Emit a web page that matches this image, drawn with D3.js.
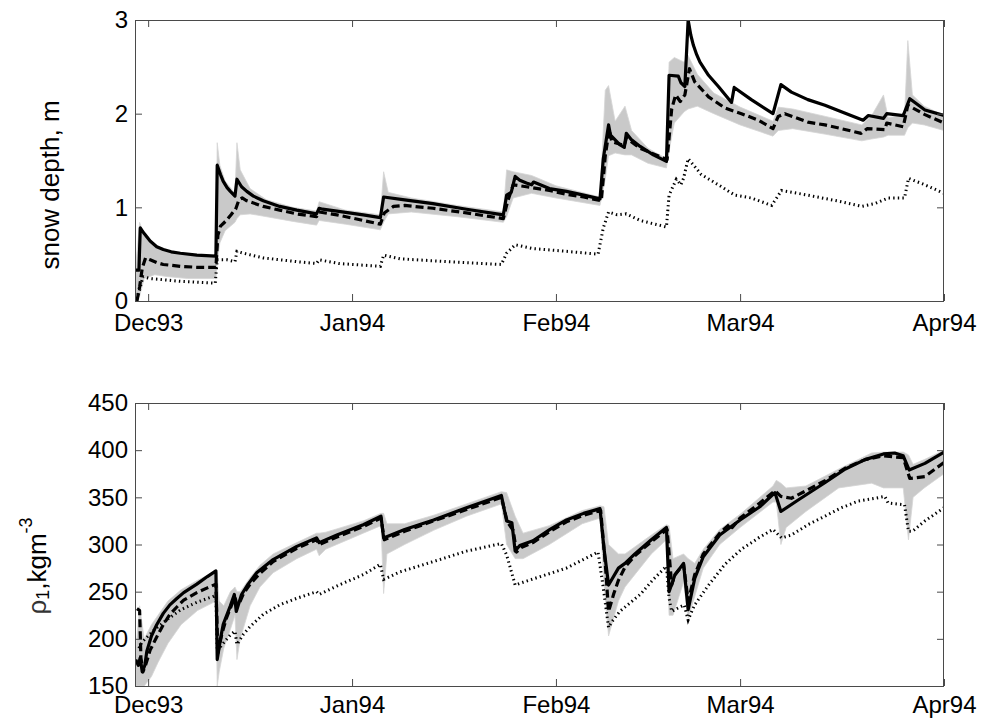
<!DOCTYPE html>
<html>
<head>
<meta charset="utf-8">
<script src="https://cdn.jsdelivr.net/npm/d3@7/dist/d3.min.js"></script>
<style>
  html, body { margin: 0; padding: 0; background: #fff; }
  svg { display: block; font-family: "Liberation Sans", Arial, Helvetica, sans-serif; }
</style>
</head>
<body>
<svg id="chart" width="982" height="724"></svg>
<script>
// Days are counted from 1 Dec 1993 (fractional days allowed).
const monthTicks = ["1993-12-01", "1994-01-01", "1994-02-01", "1994-03-01", "1994-04-01"];
const depthTicks = [0, 1, 2, 3];
const densityTicks = [150, 200, 250, 300, 350, 400, 450];

// ---- snow depth, m : [day, value] ----
const depthSolid = [
  [-1.9,0.33],[-1.4,0.33],[-1.2,0.78],[-0.6,0.72],[0.3,0.64],[1.3,0.58],[2.3,0.55],[3.5,0.525],
  [4.9,0.51],[7.4,0.49],[10.3,0.48],[10.5,1.45],[11.0,1.35],[11.4,1.28],[12.0,1.21],[12.5,1.17],
  [13.2,1.12],[13.5,1.30],[14.2,1.22],[15,1.17],[16,1.12],[17.5,1.07],[20,1.01],[22.6,0.97],
  [25.6,0.93],[26.0,0.99],[26.5,0.98],[28.7,0.96],[32.7,0.92],[35.3,0.89],[35.8,1.11],[39,1.08],
  [43.3,1.04],[48.4,0.98],[54,0.92],[54.5,1.13],[55.2,1.16],[55.8,1.33],[56.5,1.29],[57.5,1.26],
  [58.3,1.24],[58.6,1.27],[61,1.20],[63.6,1.17],[66.2,1.13],[68.7,1.09],[69.2,1.52],[70.0,1.88],
  [70.3,1.77],[71.7,1.67],[72.4,1.64],[72.7,1.79],[73.5,1.72],[74.8,1.65],[76.8,1.56],[78.8,1.49],
  [79.2,2.41],[80.6,2.40],[81.0,2.33],[81.6,2.29],[82.1,3.0],[82.5,2.84],[82.9,2.73],[83.4,2.63],
  [83.9,2.55],[85.2,2.41],[86.7,2.29],[88.7,2.12],[89.1,2.28],[91.7,2.15],[95.0,2.00],[96.2,2.31],
  [97.8,2.23],[100.3,2.15],[102.9,2.09],[105.4,2.02],[108.7,1.93],[109.5,1.98],[111.8,1.95],
  [112.3,2.00],[114.8,1.98],[115.8,2.16],[118.1,2.04],[121,1.98]
];
const depthDashed = [
  [-1.7,0.0],[-1.3,0.15],[-0.9,0.35],[-0.4,0.46],[0.3,0.44],[1.3,0.41],[2.3,0.39],[4.9,0.37],
  [7.4,0.36],[10.3,0.36],[10.6,0.70],[11.0,0.80],[11.9,0.86],[12.7,0.93],[13.3,0.98],[13.8,1.08],
  [14.3,1.10],[15,1.07],[17.5,1.01],[20,0.97],[22.6,0.93],[25.6,0.90],[26.0,0.95],[28.7,0.92],
  [32.7,0.86],[35.3,0.82],[35.9,0.94],[37.3,1.01],[39,1.02],[43.3,0.99],[48.4,0.94],[54,0.88],
  [54.6,1.05],[55.5,1.24],[57.5,1.22],[61,1.18],[63.6,1.14],[66.2,1.11],[68.9,1.07],[69.5,1.55],
  [70.1,1.83],[70.5,1.70],[72.4,1.66],[72.7,1.74],[74.8,1.63],[78.9,1.51],[79.6,2.05],[80.2,2.20],
  [80.9,2.13],[81.6,2.20],[82.3,2.48],[83.1,2.34],[85.2,2.18],[87.7,2.06],[90.2,2.00],[92.8,1.93],
  [95.0,1.84],[95.8,1.97],[96.8,2.00],[100.3,1.91],[102.9,1.88],[105.4,1.84],[108.4,1.79],
  [109.3,1.84],[112.0,1.83],[112.3,1.90],[114.8,1.86],[115.5,2.09],[118.1,1.99],[121,1.90]
];
const depthDotted = [
  [-1.8,0.02],[-1.3,0.12],[-0.8,0.26],[0.3,0.24],[4.9,0.21],[10.2,0.19],[10.5,0.44],[12.0,0.44],
  [13.2,0.42],[13.5,0.53],[14.5,0.51],[17.5,0.46],[22.6,0.42],[25.6,0.40],[26.0,0.44],[29,0.40],
  [35.3,0.37],[35.8,0.49],[38.3,0.45],[45.6,0.42],[53.7,0.39],[54.5,0.51],[55.8,0.60],[58.5,0.56],
  [63.6,0.53],[68.4,0.50],[69.2,0.78],[70.0,0.95],[71.3,0.92],[72.7,0.93],[74.8,0.86],[78.8,0.79],
  [79.2,1.13],[80.3,1.30],[81.0,1.24],[81.4,1.31],[82.1,1.52],[84.1,1.35],[86.7,1.24],[89.2,1.13],
  [91.7,1.10],[94.8,1.02],[96.3,1.18],[100.3,1.13],[105.4,1.06],[108.5,1.01],[110.5,1.04],
  [112.5,1.10],[115,1.10],[115.6,1.31],[118.1,1.24],[121,1.15]
];
// ensemble spread: [day, low, high]
const depthSpread = [
  [-1.9,0.0,0.36],[-1.3,0.05,0.84],[-0.6,0.24,0.70],[1.0,0.28,0.60],[3.0,0.26,0.54],[6.0,0.24,0.50],
  [10.3,0.24,0.48],[10.5,0.40,1.69],[10.9,0.62,1.45],[11.7,0.75,1.28],[13.2,0.84,1.15],[13.5,0.88,1.69],
  [14.0,0.92,1.40],[15.5,0.93,1.20],[18,0.90,1.08],[22,0.85,1.00],[25.6,0.81,0.96],[26.0,0.86,1.06],
  [30,0.82,0.97],[35.3,0.76,0.92],[35.8,0.84,1.38],[36.5,0.93,1.16],[40,0.95,1.10],[47,0.90,1.02],
  [54.0,0.84,0.95],[54.5,0.90,1.40],[55.5,1.10,1.38],[58.3,1.15,1.34],[62,1.10,1.23],[68.7,1.02,1.11],
  [69.5,1.30,2.25],[70.0,1.55,2.30],[71.0,1.58,1.92],[72.5,1.56,2.08],[73.5,1.56,1.82],[76,1.47,1.63],
  [78.8,1.42,1.52],[79.2,1.60,2.55],[80.0,1.90,2.60],[81.5,2.02,2.55],[82.1,2.05,2.62],[83.5,2.08,2.42],
  [86,2.00,2.22],[90,1.88,2.07],[95,1.76,1.92],[95.8,1.82,2.07],[98,1.84,2.05],[103,1.78,1.97],
  [108.5,1.71,1.88],[110,1.73,1.98],[111.8,1.75,2.20],[112.5,1.77,1.96],[115,1.77,1.98],
  [115.5,1.85,2.78],[116.2,1.90,2.20],[118,1.88,2.08],[121,1.82,1.98]
];

// ---- top-layer density, kg m-3 : [day, value] ----
const densitySolid = [
  [-1.9,178],[-1.5,172],[-1.2,180],[-0.9,165],[-0.5,172],[-0.2,187],[0.5,203],[1.3,215],[2.3,227],
  [3.3,236],[4.4,243],[5.4,249],[7.4,258],[9.0,266],[10.3,272],[10.5,178],[11.0,200],[11.4,215],
  [12.0,226],[12.5,235],[13.1,247],[13.4,229],[13.8,238],[14.2,247],[15.2,258],[16.5,270],[19,284],
  [22.6,298],[25.6,307],[26.0,302],[28.7,310],[32.7,321],[35.4,330],[35.8,307],[39,316],[43.4,326],
  [48.4,339],[53.7,352],[54.5,325],[55.3,323],[55.8,293],[56.5,299],[58.5,304],[61.1,316],[63.6,326],
  [66.2,333],[68.7,338],[69.3,296],[70.0,257],[71.5,275],[72.5,280],[74.0,290],[76.5,305],[78.8,318],
  [79.2,250],[80.1,268],[81.4,280],[82.1,231],[83.1,264],[84.4,287],[86.9,310],[90,326],[93,340],
  [95.3,355],[96.2,335],[99,348],[103,366],[106,380],[109,390],[111.8,396],[113.5,397],[114.8,394],
  [115.7,379],[118.1,386],[121,398]
];
const densityDashed = [
  [-1.7,232],[-1.3,230],[-1.1,180],[-0.8,165],[-0.4,172],[0.3,188],[1.3,202],[2.3,215],[3.3,226],
  [4.4,234],[5.4,241],[7.4,249],[9.0,254],[10.3,258],[10.6,185],[11.2,205],[11.9,222],[12.7,236],
  [13.2,244],[13.5,236],[14.0,240],[14.5,248],[15.5,258],[16.8,268],[19,282],[22.6,296],[25.6,305],
  [26.0,300],[28.7,308],[32.7,319],[35.4,328],[35.9,305],[39,314],[43.4,325],[48.4,337],[53.7,350],
  [54.6,324],[55.5,315],[56.0,292],[56.8,297],[58.5,302],[61.1,314],[63.6,324],[66.2,331],[68.8,336],
  [69.5,280],[70.0,229],[70.8,248],[71.5,262],[72.5,276],[74.0,288],[76.5,303],[78.9,316],[79.6,257],
  [80.1,268],[81.4,279],[82.1,240],[83.1,268],[84.4,290],[86.9,312],[88.5,322],[88.8,318],[90,328],
  [93,344],[95.3,357],[96.2,351],[97.8,349],[100.3,358],[103,368],[106,381],[109,390],[111.8,394],
  [114.8,392],[115.8,370],[118.1,372],[121,387]
];
const densityDotted = [
  [-1.4,190],[-1.0,196],[1,210],[3,221],[5,231],[7.5,239],[10.3,246],[10.5,187],[11.5,196],[12.6,205],
  [13.2,208],[13.5,194],[14.5,205],[15.5,213],[17.5,226],[20,236],[22.6,243],[25.6,250],[26.0,247],
  [29,257],[32.7,268],[35.3,279],[35.8,263],[38.3,271],[43.4,282],[48.4,293],[53.7,301],[54.5,289],
  [55.8,257],[57,260],[63.6,275],[68.4,292],[69.2,254],[70.0,212],[70.5,218],[71.7,229],[74.8,247],
  [76.8,263],[78.8,277],[79.2,243],[79.6,229],[80.1,231],[81.5,236],[82.1,220],[82.7,230],[83.1,236],
  [85.2,257],[87.7,279],[90.2,295],[92.8,307],[95.0,316],[96.3,307],[97.8,310],[100.3,321],[102.9,330],
  [105.4,339],[108,346],[110.5,349],[112,351],[112.5,344],[115,342],[115.6,314],[116.2,314],[118.1,325],
  [121,339]
];
const densitySpread = [
  [-1.9,150,185],[-1.3,150,235],[-0.6,150,200],[0.5,160,215],[1.5,175,225],[3,195,240],[5,215,252],
  [7.5,230,262],[10.3,240,272],[10.5,150,270],[10.8,165,240],[11.5,190,235],[12.5,210,250],[13.2,225,255],
  [13.5,178,250],[14,200,250],[15.5,235,265],[17,255,278],[19,270,290],[22.6,285,302],[25.6,295,312],
  [26,288,312],[27,295,313],[32.7,312,325],[35.4,320,333],[35.8,248,333],[36.3,290,322],[39,300,322],
  [43.4,315,331],[48.4,330,343],[53.7,343,356],[54.5,300,355],[55.8,285,330],[57,285,312],[61,300,320],
  [66,322,336],[68.7,328,341],[69.3,260,340],[70,203,300],[71.5,240,290],[72.5,255,290],[76.5,290,310],
  [78.8,305,321],[79.2,225,320],[79.8,225,285],[81.4,260,290],[82.1,222,285],[83.1,245,280],[84.4,275,295],
  [86.9,300,316],[90,318,332],[95,345,362],[95.5,345,368],[96.2,300,365],[97,318,360],[100,335,362],
  [105,360,380],[110,365,397],[111.8,360,398],[114.8,360,398],[115.6,305,395],[116.3,350,385],
  [118,360,390],[121,375,400]
];

const DAY = 864e5;
const startUTC = Date.UTC(1993, 11, 1);
const toDate = d => new Date(startUTC + d * DAY);
const parse = d3.utcParse("%Y-%m-%d");

const svg = d3.select("#chart");
const L = 135, R = 944;

const x = d3.scaleUtc()
  .domain([new Date(Date.UTC(1993, 10, 29)), new Date(Date.UTC(1994, 3, 1))])
  .range([L, R]);

const panels = [
  { id: "depth", top: 20, bottom: 301, domain: [0, 3], ticks: depthTicks,
    solid: depthSolid, dashed: depthDashed, dotted: depthDotted, spread: depthSpread, labelPad: 13 },
  { id: "density", top: 403, bottom: 686, domain: [150, 450], ticks: densityTicks,
    solid: densitySolid, dashed: densityDashed, dotted: densityDotted, spread: densitySpread, labelPad: 10 }
];

const tickLen = 7;
const frameColor = "#4a4a4a";

panels.forEach(p => {
  const y = d3.scaleLinear().domain(p.domain).range([p.bottom, p.top]);
  const g = svg.append("g");

  g.append("clipPath").attr("id", "clip-" + p.id)
    .append("rect").attr("x", L).attr("y", p.top).attr("width", R - L).attr("height", p.bottom - p.top);

  const plot = g.append("g").attr("clip-path", `url(#clip-${p.id})`);

  // ensemble spread
  plot.append("path")
    .datum(p.spread)
    .attr("d", d3.area().x(d => x(toDate(d[0]))).y0(d => y(d[1])).y1(d => y(d[2])))
    .attr("fill", "#c9c9c9")
    .attr("stroke", "#d6d6d6")
    .attr("stroke-width", 0.8);

  const line = d3.line().x(d => x(toDate(d[0]))).y(d => y(d[1]));

  plot.append("path").datum(p.dotted).attr("d", line)
    .attr("fill", "none").attr("stroke", "#000").attr("stroke-width", 3)
    .attr("stroke-dasharray", "1.4,3.2");

  plot.append("path").datum(p.dashed).attr("d", line)
    .attr("fill", "none").attr("stroke", "#000").attr("stroke-width", 3.2)
    .attr("stroke-dasharray", "8,4").attr("stroke-linejoin", "round");

  plot.append("path").datum(p.solid).attr("d", line)
    .attr("fill", "none").attr("stroke", "#000").attr("stroke-width", 3.2)
    .attr("stroke-linejoin", "round");

  const monthDates = monthTicks.map(parse);

  // axes with inward ticks on every side
  const bottomAxis = d3.axisBottom(x).tickValues(monthDates)
    .tickFormat(d3.utcFormat("%b%y")).tickSize(-tickLen).tickPadding(p.labelPad);
  const topAxis = d3.axisTop(x).tickValues(monthDates).tickFormat("").tickSize(-tickLen);
  const leftAxis = d3.axisLeft(y).tickValues(p.ticks).tickFormat(d3.format("d"))
    .tickSize(-tickLen).tickPadding(7);
  const rightAxis = d3.axisRight(y).tickValues(p.ticks).tickFormat("").tickSize(-tickLen);

  const ax = [
    g.append("g").attr("transform", `translate(0,${p.bottom})`).call(bottomAxis),
    g.append("g").attr("transform", `translate(0,${p.top})`).call(topAxis),
    g.append("g").attr("transform", `translate(${L},0)`).call(leftAxis),
    g.append("g").attr("transform", `translate(${R},0)`).call(rightAxis)
  ];
  ax.forEach(a => {
    a.select(".domain").remove();
    a.selectAll(".tick line").attr("stroke", frameColor);
    a.selectAll("text").attr("font-size", 24).attr("fill", "#000")
      .attr("font-family", "'Liberation Sans', Arial, sans-serif");
  });

  g.append("rect")
    .attr("x", L + 0.5).attr("y", p.top + 0.5)
    .attr("width", R - L - 1).attr("height", p.bottom - p.top)
    .attr("fill", "none").attr("stroke", frameColor).attr("stroke-width", 1);
});

// axis titles
svg.append("text")
  .attr("transform", "translate(50,185) rotate(-90)")
  .attr("text-anchor", "middle").attr("dominant-baseline", "central")
  .attr("font-size", 26).attr("fill", "#000")
  .text("snow depth, m");

const rhoLabel = svg.append("text")
  .attr("transform", "translate(37,566) rotate(-90)")
  .attr("text-anchor", "middle").attr("dominant-baseline", "central")
  .attr("font-size", 26).attr("fill", "#000");
rhoLabel.append("tspan").attr("fill", "#333").text("\u03c1");
rhoLabel.append("tspan").attr("font-size", 18).attr("dy", 6).text("1");
rhoLabel.append("tspan").attr("dy", -6).text(",kgm");
rhoLabel.append("tspan").attr("font-size", 18).attr("dy", -11).text("-3");
</script>
</body>
</html>
